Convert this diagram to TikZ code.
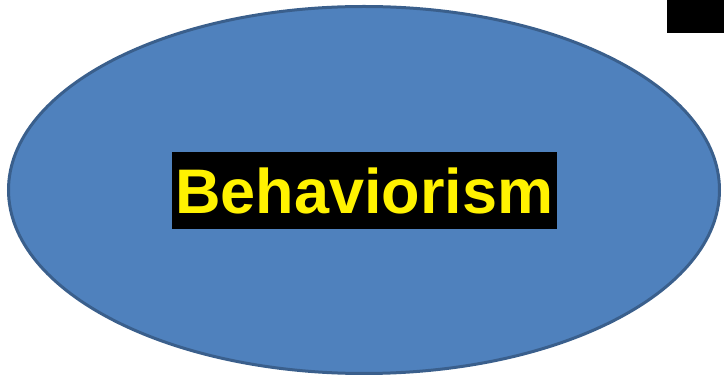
\documentclass[tikz,border=0pt]{standalone}
\usepackage{fontspec}
\setmainfont{Liberation Sans}
\begin{document}
\begin{tikzpicture}[x=1pt,y=1pt,
  blob/.style={draw=ellborder,fill=ellfill,line width=3pt},
  label/.style={fill=black,text=yellow,font=\bfseries\fontsize{63}{63}\selectfont,inner sep=0pt,minimum width=385pt,text height=62pt,text depth=15pt,anchor=base}]
\definecolor{ellfill}{HTML}{4F81BD}
\definecolor{ellborder}{HTML}{3A5F8C}
\useasboundingbox (0,0) rectangle (724,380);
\draw[blob] (364,190) ellipse [x radius=355.5, y radius=183.5];
\node[label] (title) at (364.5,166) {Behaviorism};
\fill (667,347) rectangle (724,380);
\end{tikzpicture}
\end{document}
